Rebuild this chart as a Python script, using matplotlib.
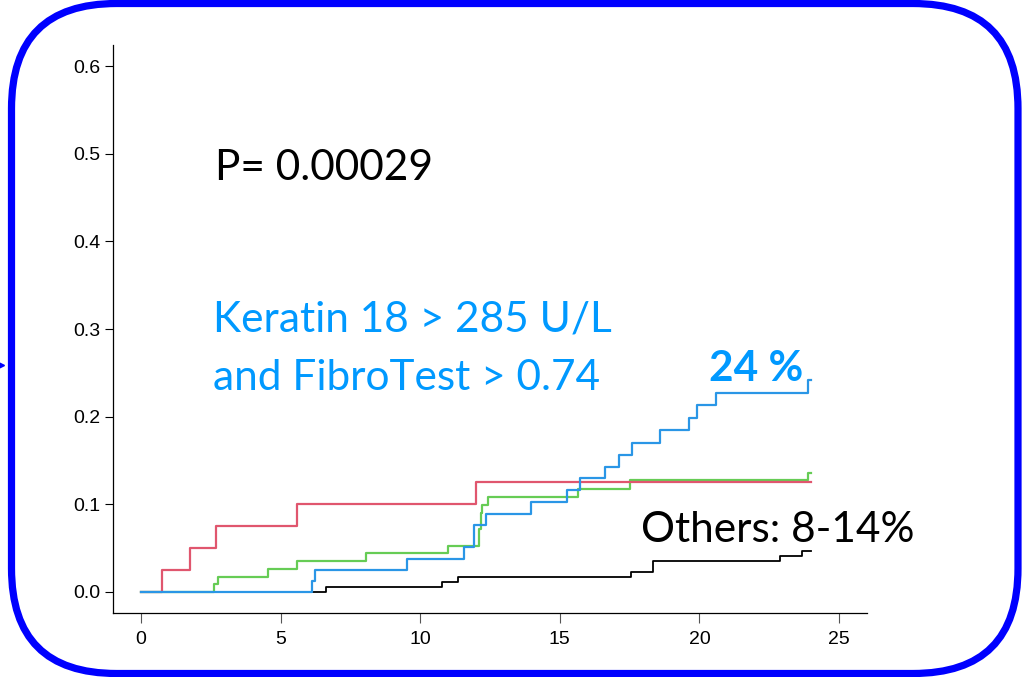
import matplotlib
matplotlib.use("Agg")
import matplotlib.pyplot as plt
from matplotlib.patches import FancyBboxPatch
from matplotlib.lines import Line2D
from matplotlib.transforms import IdentityTransform

# curvas de incidencia acumulada (tiempo, valor)
red_t = [0, 0.75, 1.75, 2.7, 5.6, 12.0, 24]
red_y = [0, 0.025, 0.05, 0.075, 0.10, 0.125, 0.125]

green_t = [0, 2.6, 2.77, 4.54, 5.6, 8.05, 11.0, 12.1, 12.16, 12.22, 12.42, 15.64, 17.53, 23.87, 24]
green_y = [0, 0.0088, 0.0176, 0.026, 0.035, 0.044, 0.053, 0.0715, 0.0897, 0.0988, 0.108,
           0.117, 0.1275, 0.136, 0.136]

blue_t = [0, 6.14, 6.25, 9.53, 11.58, 11.93, 12.37, 13.96, 15.25, 15.73, 16.62, 17.13,
          17.59, 18.59, 19.64, 19.9, 20.61, 23.9, 24]
blue_y = [0, 0.0129, 0.0254, 0.038, 0.051, 0.0768, 0.0893, 0.1026, 0.116, 0.1296, 0.143,
          0.156, 0.170, 0.1847, 0.198, 0.213, 0.227, 0.2417, 0.2417]

black_t = [0, 6.64, 10.78, 11.34, 17.56, 18.32, 22.9, 23.67, 24]
black_y = [0, 0.0057, 0.0114, 0.0171, 0.0232, 0.0357, 0.041, 0.047, 0.047]

x_ticks = [0, 5, 10, 15, 20, 25]
y_ticks = [0.0, 0.1, 0.2, 0.3, 0.4, 0.5, 0.6]

BLUE_TXT = "#0099FF"
FS = 30.5

fig = plt.figure(figsize=(10.24, 6.77), dpi=100)
ax = fig.add_axes([113 / 1024, 64 / 677, 754 / 1024, 568 / 677])

ax.step(black_t, black_y, where="post", color="black", lw=1.3)
ax.step(green_t, green_y, where="post", color="#66CC55", lw=1.6)
ax.step(red_t, red_y, where="post", color="#E0566E", lw=1.6)
ax.step(blue_t, blue_y, where="post", color="#2A96E6", lw=1.6)

ax.set_xlim(-1, 26)
ax.set_ylim(-0.024, 0.624)
ax.set_xticks(x_ticks)
ax.set_yticks(y_ticks)
ax.set_yticklabels([f"{v:.1f}" for v in y_ticks])
for s in ["top", "right"]:
    ax.spines[s].set_visible(False)
for s in ["left", "bottom"]:
    ax.spines[s].set_linewidth(0.9)
ax.tick_params(axis="y", length=6, width=0.8, labelsize=14, pad=3)
ax.tick_params(axis="x", length=7, width=0.8, color="#555555", labelsize=14, pad=6)
for lab in ax.get_xticklabels() + ax.get_yticklabels():
    lab.set_family("Liberation Sans")

ax.text(2.65, 0.47, "P= 0.00029", fontsize=FS, family="Lato", va="baseline")
ax.text(2.58, 0.2966, "Keratin 18 > 285 U/L", fontsize=FS, family="Lato",
        color=BLUE_TXT, va="baseline")
ax.text(2.58, 0.2304, "and FibroTest > 0.74", fontsize=FS, family="Lato",
        color=BLUE_TXT, va="baseline")
ax.text(20.35, 0.241, "24 %", fontsize=FS, family="Lato", weight="bold",
        color=BLUE_TXT, va="baseline")
ax.text(17.92, 0.057, "Others: 8-14%", fontsize=FS, family="Lato", va="baseline")

# marco azul redondeado (en pixeles)
borde = FancyBboxPatch((11.5, 3.5), 1006.5, 670, boxstyle="round,pad=0,rounding_size=105",
                       transform=IdentityTransform(), fill=False, edgecolor="#0000FF",
                       linewidth=5.2)
fig.add_artist(borde)
fig.add_artist(Line2D([1], [312], marker=">", markersize=4, color="#0000FF",
                      linestyle="none", transform=IdentityTransform()))

fig.savefig("out.png", dpi=100)
plt.close(fig)
